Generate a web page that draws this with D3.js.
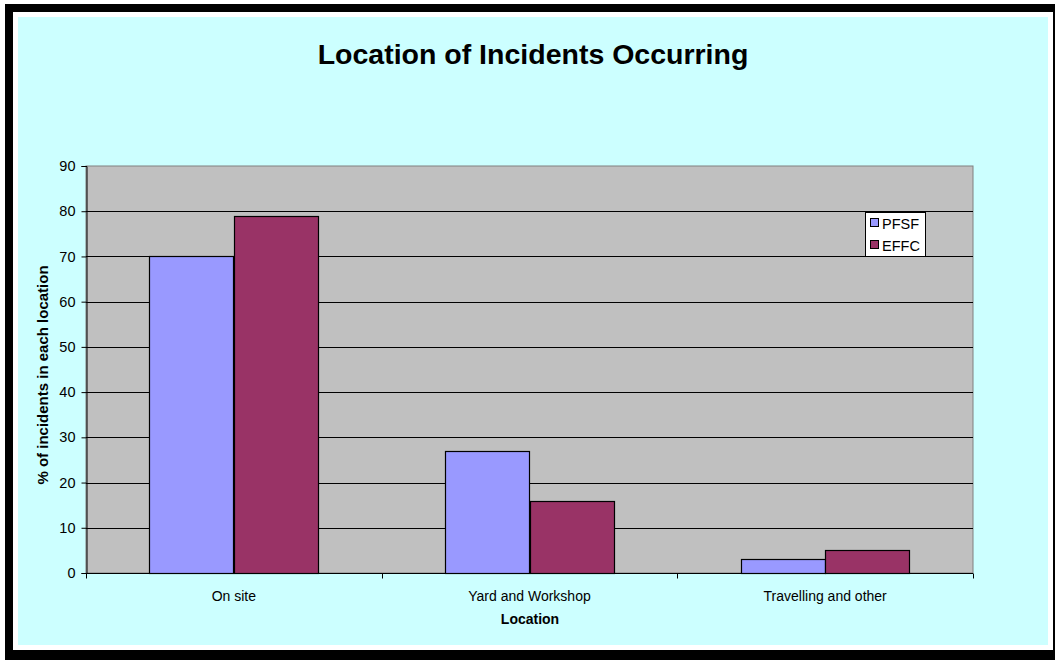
<!DOCTYPE html>
<html><head><meta charset="utf-8">
<script src="https://cdn.jsdelivr.net/npm/d3@7/dist/d3.min.js"></script>
<style>body{margin:0;background:#fff}svg{display:block}text{font-family:Arial,"Liberation Sans",sans-serif}</style>
</head><body><svg id="c" width="1055" height="660"></svg>
<script>
const categories = ["On site", "Yard and Workshop", "Travelling and other"];
const seriesNames = ["PFSF", "EFFC"];
const pfsf = [70, 27, 3];
const effc = [79, 16, 5];
const yTicks = [0, 10, 20, 30, 40, 50, 60, 70, 80, 90];
const colors = ["#9999FF", "#993366"];

const svg = d3.select("#c");
// frame
svg.append("rect").attr("x",5).attr("y",4).attr("width",1050).attr("height",656).attr("fill","#000");
svg.append("rect").attr("x",13).attr("y",12).attr("width",1040).attr("height",638).attr("fill","#fff");
svg.append("rect").attr("x",18).attr("y",17).attr("width",1030).attr("height",628).attr("fill","#CCFFFF");

const L=86, R=973, T=166, B=573;
const x = d3.scaleBand().domain(categories).range([L,R]).paddingInner(0).paddingOuter(0);
const y = d3.scaleLinear().domain([0,90]).range([B,T]);
const barW = x.bandwidth()/3.5;
const xs = d3.scaleBand().domain(seriesNames).range([0, barW*2]);

svg.append("rect").attr("x",L).attr("y",T).attr("width",R-L).attr("height",B-T)
  .attr("fill","#C0C0C0").attr("stroke","#808080").attr("stroke-width",1);

// gridlines
svg.append("g").selectAll("line").data(yTicks.filter(d=>d>0&&d<90)).join("line")
  .attr("x1",L).attr("x2",R).attr("y1",d=>Math.round(y(d))+0.5).attr("y2",d=>Math.round(y(d))+0.5)
  .attr("stroke","#000").attr("stroke-width",1);

// bars
const data = categories.map((c,i)=>({c, vals:[pfsf[i], effc[i]]}));
const g = svg.append("g");
data.forEach(d=>{
  d.vals.forEach((v,j)=>{
    const x0 = x(d.c) + (x.bandwidth()-barW*2)/2 + xs(seriesNames[j]);
    g.append("rect").attr("x",Math.round(x0)+0.5).attr("y",Math.round(y(v))+0.5)
      .attr("width",Math.round(barW)).attr("height",Math.round(B-y(v)))
      .attr("fill",colors[j]).attr("stroke","#000").attr("stroke-width",1.2);
  });
});

// axes
const yAxis = d3.axisLeft(y).tickValues(yTicks).tickSize(5).tickPadding(6);
const ya = svg.append("g").attr("transform",`translate(${L+0.5},0)`).call(yAxis);
ya.select(".domain").attr("stroke","#000");
ya.selectAll("text").attr("font-size","14.5px").attr("fill","#000").style("font-family","Arial, 'Liberation Sans', sans-serif");
ya.selectAll(".tick line").attr("stroke","#000");

const xAxis = d3.axisBottom(x).tickSize(0).tickPadding(18);
const xa = svg.append("g").attr("transform",`translate(0,${B+0.5})`).call(xAxis);
xa.select(".domain").attr("stroke","#000").attr("d",`M${L},0H${R}`);
xa.selectAll("text").attr("font-size","14px").attr("fill","#000").style("font-family","Arial, 'Liberation Sans', sans-serif");
// boundary ticks
const bounds = categories.map(c=>x(c)).concat([R]);
xa.append("g").selectAll("line").data(bounds).join("line")
  .attr("x1",d=>Math.round(d)+0.5).attr("x2",d=>Math.round(d)+0.5).attr("y1",0).attr("y2",5).attr("stroke","#000");

// titles
svg.append("text").attr("x",533).attr("y",64).attr("text-anchor","middle")
  .attr("font-size","28.5px").attr("font-weight","bold").text("Location of Incidents Occurring");
svg.append("text").attr("x",530).attr("y",624).attr("text-anchor","middle")
  .attr("font-size","14px").attr("font-weight","bold").text("Location");
svg.append("text").attr("transform","translate(48,375) rotate(-90)").attr("text-anchor","middle")
  .attr("font-size","15px").attr("font-weight","bold").text("% of incidents in each location");

// legend
const lg = svg.append("g");
lg.append("rect").attr("x",865.5).attr("y",212.5).attr("width",60).attr("height",44).attr("fill","#fff").attr("stroke","#000");
seriesNames.forEach((s,i)=>{
  lg.append("rect").attr("x",870.5).attr("y",218.5+i*22).attr("width",8).attr("height",8)
    .attr("fill",colors[i]).attr("stroke","#000");
  lg.append("text").attr("x",882).attr("y",228.5+i*22).attr("font-size","14.5px").text(s);
});
</script></body></html>
